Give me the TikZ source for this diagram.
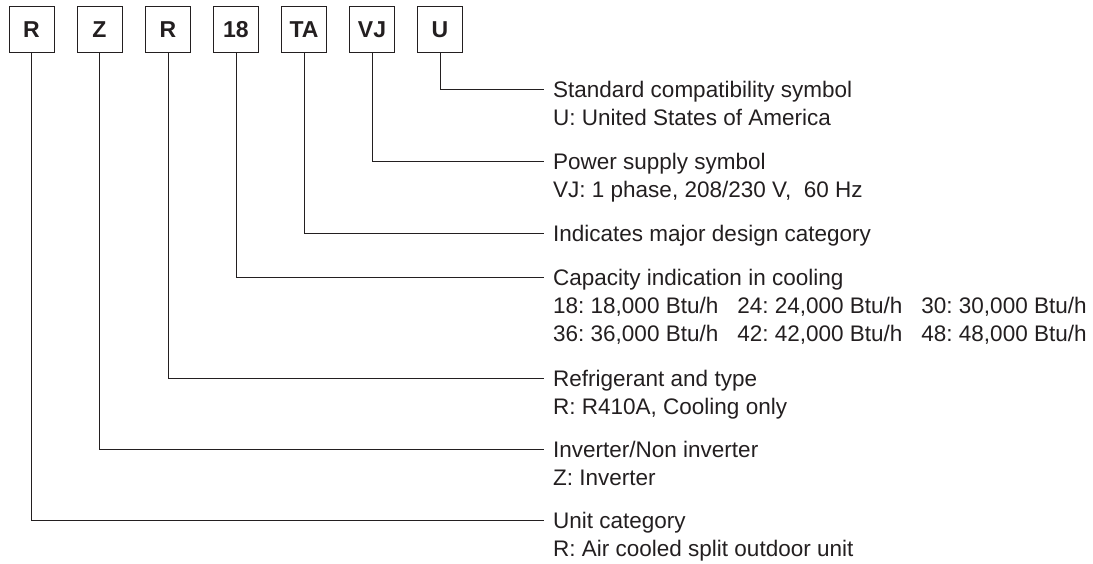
\documentclass[tikz,border=0pt]{standalone}
\usepackage{fontspec}
\setmainfont{Liberation Sans}
\definecolor{ink}{HTML}{231F20}
\frenchspacing
\begin{document}
\begin{tikzpicture}[x=1pt,y=1pt,
  code/.style={draw=ink,line width=0.9pt,minimum width=45pt,minimum height=46pt,inner sep=0pt,
    font=\fontsize{23}{26}\selectfont\bfseries,text=ink},
  lbl/.style={anchor=west,inner sep=0pt,text height=16.1pt,text depth=0pt,
    font=\fontsize{22.5}{26}\selectfont,text=ink},
  conn/.style={draw=ink,line width=0.9pt}]
\useasboundingbox (0,0) rectangle (1093,-564);
% code boxes
\node[code] (b1) at (31.5,-29.5) {R};
\node[code] (b2) at (99.5,-29.5) {Z};
\node[code] (b3) at (168,-29.5) {R};
\node[code] (b4) at (236,-29.5) {18};
\node[code] (b5) at (304,-29.5) {TA};
\node[code] (b6) at (372,-29.5) {VJ};
\node[code] (b7) at (440,-29.5) {U};
% line ends
\coordinate (e7) at (544,-89);
\coordinate (e6) at (544,-161);
\coordinate (e5) at (544,-233);
\coordinate (e4) at (544,-277);
\coordinate (e3) at (544,-378);
\coordinate (e2) at (544,-449);
\coordinate (e1) at (544,-520);
\foreach \i in {1,...,7} {\draw[conn] (b\i.south) |- (e\i);}
% labels
\def\sp{\hspace*{19pt}}
\node[lbl] (u1) at (553,-89) {Standard compatibility symbol};
\node[lbl] (u2) at (553,-117) {U: United States of America};
\node[lbl] (v1) at (553,-161) {Power supply symbol};
\node[lbl] (v2) at (553,-189) {VJ: 1 phase, 208/230 V,\ \ 60 Hz};
\node[lbl] (t1) at (553,-233) {Indicates major design category};
\node[lbl] (c1) at (553,-277) {Capacity indication in cooling};
\node[lbl] (c2) at (553,-305) {18: 18,000 Btu/h\sp24: 24,000 Btu/h\sp30: 30,000 Btu/h};
\node[lbl] (c3) at (553,-333) {36: 36,000 Btu/h\sp42: 42,000 Btu/h\sp48: 48,000 Btu/h};
\node[lbl] (r1) at (553,-378) {Refrigerant and type};
\node[lbl] (r2) at (553,-406) {R: R410A, Cooling only};
\node[lbl] (z1) at (553,-449) {Inverter/Non inverter};
\node[lbl] (z2) at (553,-477) {Z: Inverter};
\node[lbl] (a1) at (553,-520) {Unit category};
\node[lbl] (a2) at (553,-548) {R: Air cooled split outdoor unit};
\end{tikzpicture}
\end{document}
